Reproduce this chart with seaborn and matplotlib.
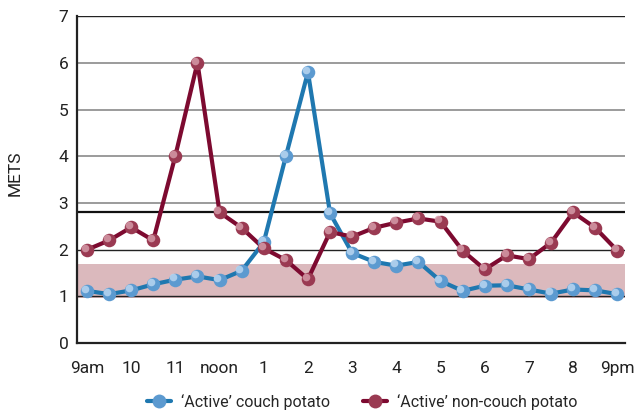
"""METS across the day: 'Active' couch potato vs non-couch potato."""

import numpy as np
import pandas as pd
import matplotlib
matplotlib.use("Agg")
import matplotlib.pyplot as plt
import matplotlib.transforms as mtransforms
from matplotlib.lines import Line2D
import seaborn as sns

# half-hour readings from 9am to 9pm
hours = [9 + 0.5 * i for i in range(25)]
couch = [1.12, 1.05, 1.13, 1.26, 1.36, 1.43, 1.35, 1.55, 2.16, 4.0, 5.8, 2.78,
         1.93, 1.74, 1.66, 1.74, 1.33, 1.12, 1.23, 1.24, 1.15, 1.06, 1.15, 1.13, 1.05]
non_couch = [2.0, 2.2, 2.48, 2.2, 4.01, 6.0, 2.8, 2.47, 2.03, 1.78, 1.37, 2.38,
             2.28, 2.47, 2.58, 2.67, 2.6, 1.98, 1.58, 1.88, 1.8, 2.15, 2.8, 2.47, 1.98]
tick_hours = list(range(9, 22))
tick_labels = ["9am", "10", "11", "noon", "1", "2", "3", "4", "5", "6", "7", "8", "9pm"]
band = (0.97, 1.7)
threshold = 2.8

groups = ["'Active' couch potato", "'Active' non-couch potato"]
legend_labels = ["\u2018Active\u2019 couch potato", "\u2018Active\u2019 non-couch potato"]
line_colors = {groups[0]: "#1f78b0", groups[1]: "#7d0a30"}
ball_colors = {groups[0]: "#5c9ad0", groups[1]: "#9a3a52"}
shine_colors = {groups[0]: "#b8d6f0", groups[1]: "#d49aa8"}

df = pd.concat([
    pd.DataFrame({"hour": hours, "mets": couch, "group": groups[0]}),
    pd.DataFrame({"hour": hours, "mets": non_couch, "group": groups[1]}),
], ignore_index=True)

sns.set_theme(style="white")
plt.rcParams["font.family"] = ["Roboto", "DejaVu Sans"]

fig = plt.figure(figsize=(6.4, 4.13), dpi=100)
ax = fig.add_axes([0.120, 0.169, 0.857, 0.792])

# grid
for v in [3, 4, 5, 6]:
    ax.axhline(v, color="#8a8a8a", lw=1.2, zorder=1)
for v in [1, 2, 7]:
    ax.axhline(v, color="#222222", lw=1.0, zorder=1)
ax.axhspan(band[0], band[1], color="#dbb9bd", lw=0, zorder=0.5)
ax.axhline(threshold, color="#111111", lw=1.6, zorder=1)

sns.lineplot(data=df, x="hour", y="mets", hue="group", hue_order=groups,
             palette=line_colors, lw=3, legend=False, ax=ax, zorder=2)

shine = mtransforms.offset_copy(ax.transData, fig=fig, x=-1.6, y=1.6, units="points")
for z, g in enumerate(groups):
    sub = df[df["group"] == g]
    ax.scatter(sub["hour"], sub["mets"], s=95, color=ball_colors[g], lw=0, zorder=3 + z)
    ax.scatter(sub["hour"], sub["mets"], s=30, color=shine_colors[g], lw=0,
               alpha=0.85, zorder=3 + z, transform=shine)

ax.set_xlim(8.77, 21.18)
ax.set_ylim(0, 7)
ax.set_xticks(tick_hours)
ax.set_xticklabels(tick_labels)
ax.set_yticks(range(8))
ax.tick_params(axis="both", length=0, labelsize=12.5, colors="#222222")
ax.tick_params(axis="y", pad=6)
ax.tick_params(axis="x", pad=13)
ax.set_xlabel("")
ax.set_ylabel("METS", fontsize=12.5, color="#222222")
ax.yaxis.set_label_coords(-0.098, 0.52)

for side in ["top", "right"]:
    ax.spines[side].set_visible(False)
for side in ["left", "bottom"]:
    ax.spines[side].set_color("#222222")
    ax.spines[side].set_linewidth(1.6)

handles = [Line2D([0], [0], color=line_colors[g], lw=3, marker="o", markersize=10,
                  markerfacecolor=ball_colors[g], markeredgewidth=0) for g in groups]
fig.legend(handles, legend_labels, loc="center", ncol=2, frameon=False,
           bbox_to_anchor=(0.566, 0.027), fontsize=11.5, handlelength=1.5,
           columnspacing=2.1, handletextpad=0.6)

fig.savefig("out.png", dpi=100)
plt.close(fig)
